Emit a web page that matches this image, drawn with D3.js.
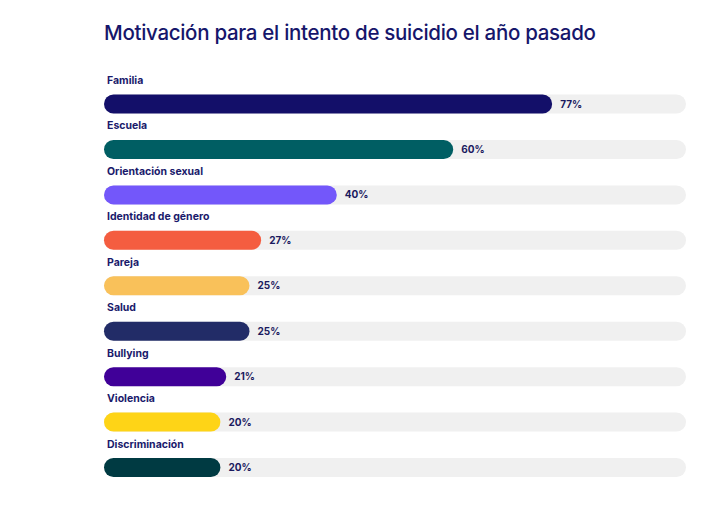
<!DOCTYPE html>
<html>
<head>
<meta charset="utf-8">
<script src="https://cdn.jsdelivr.net/npm/d3@7"></script>
<style>
  body { margin: 0; background: #fff; }
  text { font-family: Inter, "Noto Sans", sans-serif; }
</style>
</head>
<body>
<script>
var w = 721;
var h = 515;

var categories = ["Familia", "Escuela", "Orientación sexual", "Identidad de género", "Pareja", "Salud", "Bullying", "Violencia", "Discriminación"];
var values = [77, 60, 40, 27, 25, 25, 21, 20, 20];
var colors = ["#130f69", "#005e63", "#7357fa", "#f45d40", "#f9c15a", "#222c67", "#400098", "#fed417", "#003a42"];

var svg = d3.select("body").append("svg").attr("width", w).attr("height", h);

svg.append("text")
    .attr("x", 104)
    .attr("y", 40)
    .style("font-size", "20.5px")
    .style("font-weight", 500)
    .style("letter-spacing", "-0.3px")
    .style("fill", "#16166b")
    .text("Motivación para el intento de suicidio el año pasado");

var x = d3.scaleLinear().domain([0, 100]).range([104, 686]);
var y = d3.scaleBand().domain(categories).range([81, 490]);
var barH = 19;

var row = svg.selectAll("g.row")
    .data(categories)
    .enter()
    .append("g")
    .attr("class", "row")
    .attr("transform", function (d) { return "translate(0," + y(d) + ")"; });

// grey track
row.append("rect")
    .attr("x", x(0))
    .attr("y", 13.5)
    .attr("width", x(100) - x(0))
    .attr("height", barH)
    .attr("rx", barH / 2)
    .style("fill", "#f0f0f0");

row.append("rect")
    .attr("x", x(0))
    .attr("y", 13.5)
    .attr("width", function (d, i) { return x(values[i]) - x(0); })
    .attr("height", barH)
    .attr("rx", barH / 2)
    .style("fill", function (d, i) { return colors[i]; });

row.append("text")
    .attr("x", 107)
    .attr("y", 3)
    .style("font-size", "10.5px")
    .style("font-weight", 700)
    .style("fill", "#1a1a6b")
    .text(function (d) { return d; });

row.append("text")
    .attr("x", function (d, i) { return x(values[i]) + 8; })
    .attr("y", 26.5)
    .style("font-size", "10px")
    .style("font-weight", 700)
    .style("fill", "#1a1a5e")
    .text(function (d, i) { return values[i] + "%"; });
</script>
</body>
</html>
